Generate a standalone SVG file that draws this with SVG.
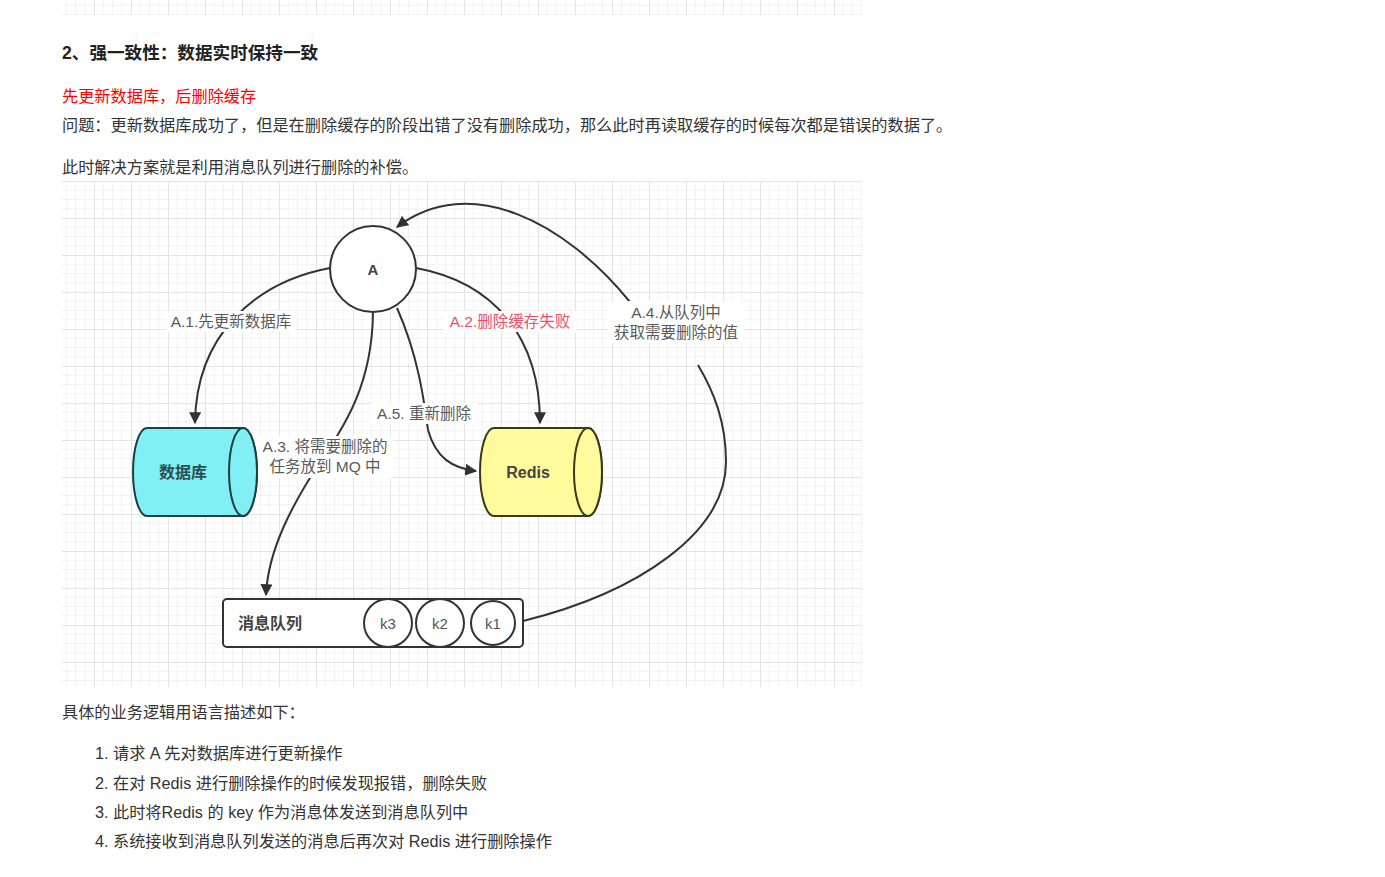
<svg xmlns="http://www.w3.org/2000/svg" width="1385" height="877" viewBox="0 0 1385 877">
<defs>
  <pattern id="grid" x="94" y="218" width="37" height="37" patternUnits="userSpaceOnUse">
    <path d="M9.25 0V37M18.5 0V37M27.75 0V37M0 9.25H37M0 18.5H37M0 27.75H37" stroke="#f2f2f2" stroke-width="1" fill="none"/>
    <path d="M0.5 0V37M0 0.5H37" stroke="#e4e4e4" stroke-width="1" fill="none"/>
  </pattern>
  <marker id="arr" viewBox="0 0 10 10" refX="9" refY="5" markerWidth="6" markerHeight="6" orient="auto" markerUnits="strokeWidth">
    <path d="M0 0L10 5L0 10Z" fill="#333"/>
  </marker>
  <style>
    .txt{font-family:"Liberation Sans","Noto Sans CJK SC",sans-serif;fill:#333;font-size:16.2px}
    .h{font-size:17.6px;font-weight:bold;fill:#222}
    .red{fill:#ff0000}
    .lbl{font-family:"Liberation Sans","Noto Sans CJK SC",sans-serif;font-size:15.5px;fill:#5a5a5a;text-anchor:middle}
    .node{font-family:"Liberation Sans","Noto Sans CJK SC",sans-serif;font-size:16px;font-weight:bold;text-anchor:middle;dominant-baseline:central}
    .edge{fill:none;stroke:#333;stroke-width:2}
    .bg{fill:#fff}
  </style>
</defs>
<rect width="1385" height="877" fill="#fff"/>
<!-- bottom of previous image -->
<rect x="62" y="0" width="800" height="15" fill="url(#grid)"/>
<!-- texts above -->
<text class="txt h" x="62" y="59">2、强一致性：数据实时保持一致</text>
<text class="txt red" x="62" y="102">先更新数据库，后删除缓存</text>
<text class="txt" x="62" y="131">问题：更新数据库成功了，但是在删除缓存的阶段出错了没有删除成功，那么此时再读取缓存的时候每次都是错误的数据了。</text>
<text class="txt" x="62" y="173">此时解决方案就是利用消息队列进行删除的补偿。</text>
<!-- diagram background -->
<rect x="62" y="181" width="800" height="506" fill="url(#grid)"/>
<line x1="62" y1="181.5" x2="862" y2="181.5" stroke="#e6e6e6"/>
<!-- connectors -->
<g id="connectors">
  <path class="edge" d="M330 268 C255 282 196 335 195 423" marker-end="url(#arr)"/>
  <path class="edge" d="M416 268 C492 282 540 335 540 423" marker-end="url(#arr)"/>
  <path class="edge" d="M373 313 C372 385 345 425 320 462 C292 505 268 550 266 595" marker-end="url(#arr)"/>
  <path class="edge" d="M397 308 C418 355 424 400 428 430 C436 458 452 468 476 471" marker-end="url(#arr)"/>
  <path class="edge" d="M523 621 C640 592 726 532 726 462 C726 422 714 392 698 365"/>
  <path class="edge" d="M630 302 C565 222 470 172 397 227" marker-end="url(#arr)"/>
  <rect class="bg" x="166" y="311" width="130" height="21"/>
  <text class="lbl" x="231" y="327">A.1.先更新数据库</text>
  <rect class="bg" x="443" y="311" width="134" height="21"/>
  <text class="lbl" x="510" y="327" style="fill:#e8506e">A.2.删除缓存失败</text>
  <rect class="bg" x="257" y="436" width="136" height="42"/>
  <text class="lbl" x="325" y="452">A.3. 将需要删除的</text>
  <text class="lbl" x="325" y="472">任务放到 MQ 中</text>
  <rect class="bg" x="371" y="403" width="106" height="21"/>
  <text class="lbl" x="424" y="419">A.5. 重新删除</text>
  <rect class="bg" x="608" y="301" width="136" height="42"/>
  <text class="lbl" x="676" y="318">A.4.从队列中</text>
  <text class="lbl" x="676" y="338">获取需要删除的值</text>
</g>
<!-- nodes -->
<g id="node-A">
  <circle cx="373" cy="269" r="43" fill="#fff" stroke="#333" stroke-width="2"/>
  <text class="node" x="373" y="269" style="fill:#444;font-size:15px">A</text>
</g>
<g id="node-db">
  <path d="M147 428 L243 428 A14 44 0 0 1 243 516 L147 516 A14 44 0 0 1 147 428 Z" fill="#80f0f5" stroke="#1d4040" stroke-width="2"/>
  <ellipse cx="243" cy="472" rx="14" ry="44" fill="#80f0f5" stroke="#1d4040" stroke-width="2"/>
  <text class="node" x="183" y="472" style="fill:#2d4d4f">数据库</text>
</g>
<g id="node-redis">
  <path d="M494 428 L588 428 A14 44 0 0 1 588 516 L494 516 A14 44 0 0 1 494 428 Z" fill="#fdfb9c" stroke="#3a3a1a" stroke-width="2"/>
  <ellipse cx="588" cy="472" rx="14" ry="44" fill="#fdfb9c" stroke="#3a3a1a" stroke-width="2"/>
  <text class="node" x="528" y="472" style="fill:#444">Redis</text>
</g>
<g id="node-mq">
  <rect x="223" y="599" width="300" height="48" rx="4" fill="#fff" stroke="#333" stroke-width="2"/>
  <text class="node" x="238" y="623" style="fill:#444;text-anchor:start">消息队列</text>
  <circle cx="388" cy="623" r="24" fill="#fff" stroke="#333" stroke-width="2"/>
  <text class="node" x="388" y="623" style="fill:#555;font-weight:normal;font-size:15px">k3</text>
  <circle cx="440" cy="623" r="24" fill="#fff" stroke="#333" stroke-width="2"/>
  <text class="node" x="440" y="623" style="fill:#555;font-weight:normal;font-size:15px">k2</text>
  <circle cx="493" cy="623" r="22" fill="#fff" stroke="#333" stroke-width="2"/>
  <text class="node" x="493" y="623" style="fill:#555;font-weight:normal;font-size:15px">k1</text>
</g>
<!-- texts below -->
<text class="txt" x="62" y="718">具体的业务逻辑用语言描述如下：</text>
<text class="txt" x="95" y="759">1. 请求 A 先对数据库进行更新操作</text>
<text class="txt" x="95" y="789">2. 在对 Redis 进行删除操作的时候发现报错，删除失败</text>
<text class="txt" x="95" y="818">3. 此时将Redis 的 key 作为消息体发送到消息队列中</text>
<text class="txt" x="95" y="847">4. 系统接收到消息队列发送的消息后再次对 Redis 进行删除操作</text>
</svg>
